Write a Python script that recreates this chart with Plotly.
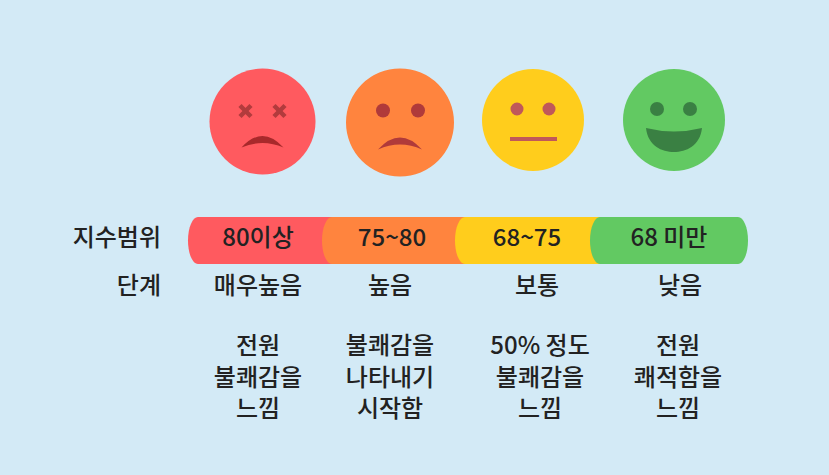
import plotly.graph_objects as go

# ---- data ----
range_labels = ["80이상", "75~80", "68~75", "68 미만"]
stage_labels = ["매우높음", "높음", "보통", "낮음"]
desc_line1 = ["전원", "불쾌감을", "50% 정도", "전원"]
desc_line2 = ["불쾌감을", "나타내기", "불쾌감을", "쾌적함을"]
desc_line3 = ["느낌", "시작함", "느낌", "느낌"]
row_titles = ["지수범위", "단계"]

# ---- layout / style constants ----
W, H = 829, 475
BG = "#D3EAF6"
FONT = "Noto Sans CJK KR"
TXT = "#222222"
seg_colors = ["#FF5A5F", "#FF843E", "#FFCD1C", "#62C962"]
seg_left = [188, 322, 455, 590]
bar_right = 748
bar_top, bar_bot = 217, 264
rx = 10
text_x = [258, 392, 527, 669]
stage_x = [258, 390, 537, 680]
desc_x = [258, 390, 540, 678]
face_c = [(262.5, 121.5), (400, 122.5), (533, 120), (674, 120)]
face_r = [53, 54, 51, 51]

K = 0.5523


def capsule(x0, x1, y0, y1, r):
    ry = (y1 - y0) / 2
    ym = (y0 + y1) / 2
    p = f"M {x0 + r},{y0} L {x1 - r},{y0} "
    p += f"C {x1 - r + K * r},{y0} {x1},{ym - K * ry} {x1},{ym} "
    p += f"C {x1},{ym + K * ry} {x1 - r + K * r},{y1} {x1 - r},{y1} "
    p += f"L {x0 + r},{y1} "
    p += f"C {x0 + r - K * r},{y1} {x0},{ym + K * ry} {x0},{ym} "
    p += f"C {x0},{ym - K * ry} {x0 + r - K * r},{y0} {x0 + r},{y0} Z"
    return p


shapes = []
# bar segments
for i, c in enumerate(seg_colors):
    x0 = seg_left[i]
    x1 = seg_left[i + 1] + 3 * rx if i < len(seg_colors) - 1 else bar_right
    shapes.append(dict(type="path", path=capsule(x0, x1, bar_top, bar_bot, rx),
                       fillcolor=c, line=dict(width=0), layer="below"))

# faces
for (cx, cy), r, c in zip(face_c, face_r, seg_colors):
    shapes.append(dict(type="circle", x0=cx - r, x1=cx + r, y0=cy - r, y1=cy + r,
                       fillcolor=c, line=dict(width=0), layer="below"))

# red face: X eyes + frown
cx, cy = face_c[0]
for ex in (cx - 17, cx + 17):
    ey = cy - 10.5
    d = 5.5
    shapes.append(dict(type="line", x0=ex - d, y0=ey - d, x1=ex + d, y1=ey + d,
                       line=dict(color="#B23B3D", width=4.5)))
    shapes.append(dict(type="line", x0=ex - d, y0=ey + d, x1=ex + d, y1=ey - d,
                       line=dict(color="#B23B3D", width=4.5)))
shapes.append(dict(type="path",
                   path=f"M {cx-21},{cy+26} Q {cx},{cy+3} {cx+21},{cy+26} Q {cx},{cy+17} {cx-21},{cy+26} Z",
                   fillcolor="#A8292B", line=dict(width=0)))

# orange face: dot eyes + frown
cx, cy = face_c[1]
for ex in (cx - 17, cx + 18):
    shapes.append(dict(type="circle", x0=ex - 7, x1=ex + 7, y0=cy - 19, y1=cy - 5,
                       fillcolor="#B03A3A", line=dict(width=0)))
shapes.append(dict(type="path",
                   path=f"M {cx-22},{cy+27} Q {cx},{cy+3} {cx+22},{cy+27} Q {cx},{cy+17} {cx-22},{cy+27} Z",
                   fillcolor="#B03A3A", line=dict(width=0)))

# yellow face: dot eyes + straight mouth
cx, cy = face_c[2]
for ex in (cx - 16, cx + 16):
    shapes.append(dict(type="circle", x0=ex - 6.5, x1=ex + 6.5, y0=cy - 17.5, y1=cy - 4.5,
                       fillcolor="#C0585A", line=dict(width=0)))
shapes.append(dict(type="rect", x0=cx - 23, x1=cx + 24, y0=cy + 17, y1=cy + 21,
                   fillcolor="#C0585A", line=dict(width=0)))

# green face: dot eyes + smile
cx, cy = face_c[3]
for ex in (cx - 17, cx + 16):
    shapes.append(dict(type="circle", x0=ex - 7, x1=ex + 7, y0=cy - 18, y1=cy - 4,
                       fillcolor="#3A8043", line=dict(width=0)))
shapes.append(dict(type="path",
                   path=f"M {cx-28},{cy+8} Q {cx},{cy+15} {cx+28},{cy+8} C {cx+26},{cy+26} {cx+12},{cy+32} {cx},{cy+32} C {cx-12},{cy+32} {cx-26},{cy+26} {cx-28},{cy+8} Z",
                   fillcolor="#3A8043", line=dict(width=0)))

fig = go.Figure()

tfont = dict(family=FONT, size=24, color=TXT, weight=500)


def text_row(xs, ys, labels):
    fig.add_trace(go.Scatter(x=xs, y=ys, mode="text", text=labels,
                             textposition="middle center", textfont=tfont,
                             hoverinfo="skip", showlegend=False))


text_row(text_x, [240] * 4, range_labels)
text_row(stage_x, [288] * 4, stage_labels)
text_row(desc_x, [348] * 4, desc_line1)
text_row(desc_x, [380] * 4, desc_line2)
text_row(desc_x, [411] * 4, desc_line3)

# row titles (right aligned)
fig.add_trace(go.Scatter(x=[161, 161], y=[240, 288], mode="text", text=row_titles,
                         textposition="middle left", textfont=tfont,
                         hoverinfo="skip", showlegend=False))

fig.update_layout(
    width=W, height=H,
    margin=dict(l=0, r=0, t=0, b=0),
    paper_bgcolor=BG, plot_bgcolor=BG,
    shapes=shapes,
    xaxis=dict(range=[0, W], visible=False, fixedrange=True),
    yaxis=dict(range=[H, 0], visible=False, fixedrange=True),
)

fig.write_html("out.html", config={"displayModeBar": False},
               post_script="document.body.style.margin='0';document.body.style.background='" + BG + "';")
